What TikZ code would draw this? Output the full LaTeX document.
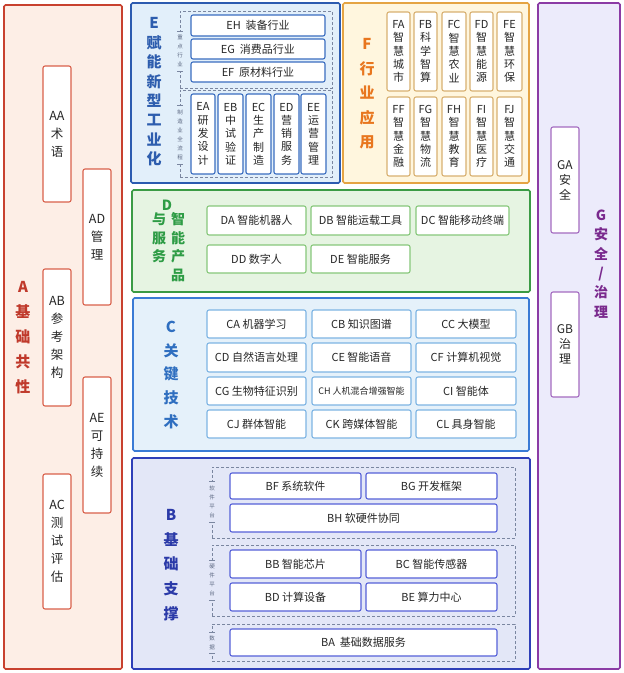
\documentclass[tikz,border=0pt]{standalone}
\usepackage{fontspec}
\setmainfont{Noto Sans CJK SC}
\definecolor{Abg}{HTML}{FDEEE6}\definecolor{Aln}{HTML}{C8412F}\definecolor{Acl}{HTML}{D9604A}\definecolor{Atx}{HTML}{C0392B}
\definecolor{Ebg}{HTML}{E2EFFA}\definecolor{Eln}{HTML}{2C5BB0}\definecolor{Ecl}{HTML}{3A6DC0}\definecolor{Etx}{HTML}{2D5DAE}
\definecolor{Fbg}{HTML}{FFF6DE}\definecolor{Fln}{HTML}{E5A443}\definecolor{Fcl}{HTML}{D8B070}\definecolor{Ftx}{HTML}{E8761E}
\definecolor{Dbg}{HTML}{E6F4E2}\definecolor{Dln}{HTML}{3B9B45}\definecolor{Dcl}{HTML}{86C77A}\definecolor{Dtx}{HTML}{2E9C45}
\definecolor{Cbg}{HTML}{E5F1FA}\definecolor{Cln}{HTML}{3A7BD5}\definecolor{Ccl}{HTML}{7DB4E3}\definecolor{Ctx}{HTML}{2F6FC0}
\definecolor{Bbg}{HTML}{E3E7F7}\definecolor{Bln}{HTML}{2E3FB8}\definecolor{Bcl}{HTML}{5560D8}\definecolor{Btx}{HTML}{2B3AA8}
\definecolor{Gbg}{HTML}{ECEBFB}\definecolor{Gln}{HTML}{8B3BA5}\definecolor{Gcl}{HTML}{A46BC0}\definecolor{Gtx}{HTML}{7A2A8E}
\definecolor{dashcol}{HTML}{7A86A0}\definecolor{sidecol}{HTML}{5A6680}
\newcommand\rbox[7]{%
  \pgfmathsetmacro\rbw{#5-#3}%
  \pgfmathsetmacro\rbh{#6-#4}%
  \node[#1, minimum width=\rbw pt, minimum height=\rbh pt] (#2) at ({(#3+#5)/2},{(#4+#6)/2}) {#7};}
\newcommand\gap{\hspace{.45em}}
\begin{document}
\begin{tikzpicture}[x=1pt,y=-1pt,
  cont/.style={draw, line width=1.6pt, rounded corners=1.5pt, inner sep=0pt},
  cell/.style={draw, fill=white, line width=1.1pt, rounded corners=2pt, inner sep=0pt, align=center, font=\fontsize{11}{13.3}\selectfont, text=black!85},
  acell/.style={cell, font=\fontsize{12.5}{18}\selectfont},
  gcell/.style={cell, font=\fontsize{12}{15}\selectfont},
  dframe/.style={draw=dashcol, line width=0.8pt, dash pattern=on 3pt off 2pt, inner sep=0pt},
  lab/.style={align=center, inner sep=0pt},
  side/.style={inner xsep=0.8pt, inner ysep=4pt, align=center, font=\fontsize{5.5}{9}\selectfont, text=sidecol},
  tick/.style={draw=dashcol, line width=0.8pt}]
\useasboundingbox (0,0) rectangle (624,673);
\fill[white] (0,0) rectangle (624,673);

% ---------- A ----------
\rbox{cont, draw=Aln, fill=Abg}{A}{4}{5}{122}{669}{}
\node[lab, text=Atx, font=\fontsize{15}{25}\selectfont\bfseries] (Alab) at (23,338) {A\\基\\础\\共\\性};
\rbox{acell, draw=Acl}{AA}{43}{66}{71}{202}{AA\\术\\语}
\rbox{acell, draw=Acl}{AD}{83}{169}{111}{305}{AD\\管\\理}
\rbox{acell, draw=Acl}{AB}{43}{269}{71}{406}{AB\\参\\考\\架\\构}
\rbox{acell, draw=Acl}{AE}{83}{377}{111}{513}{AE\\可\\持\\续}
\rbox{acell, draw=Acl}{AC}{43}{474}{71}{609}{AC\\测\\试\\评\\估}

% ---------- E ----------
\rbox{cont, draw=Eln, fill=Ebg}{E}{131}{3}{340}{183}{}
\node[lab, text=Etx, font=\fontsize{15}{19.4}\selectfont\bfseries] (Elab) at (154,92) {E\\赋\\能\\新\\型\\工\\业\\化};
\rbox{dframe}{Ef1}{180}{11}{332}{88}{}
\rbox{dframe}{Ef2}{180}{90}{332}{177}{}
\node[side, fill=Ebg] (Es1) at (180,51) {重\\点\\行\\业};
\node[side, fill=Ebg] (Es2) at (180,135) {制\\造\\业\\全\\流\\程};
\foreach \s in {Es1,Es2}{
  \draw[tick] ([xshift=-3pt]\s.north) -- ([xshift=3pt]\s.north);
  \draw[tick] ([xshift=-3pt]\s.south) -- ([xshift=3pt]\s.south);}
\rbox{cell, draw=Ecl}{EH}{191}{15}{325}{36}{EH\gap 装备行业}
\rbox{cell, draw=Ecl}{EG}{191}{39}{325}{59}{EG\gap 消费品行业}
\rbox{cell, draw=Ecl}{EF}{191}{62}{325}{82}{EF\gap 原材料行业}
\rbox{cell, draw=Ecl}{EA}{191}{94}{215}{174}{EA\\研\\发\\设\\计}
\rbox{cell, draw=Ecl}{EB}{218}{94}{243}{174}{EB\\中\\试\\验\\证}
\rbox{cell, draw=Ecl}{EC}{246}{94}{271}{174}{EC\\生\\产\\制\\造}
\rbox{cell, draw=Ecl}{ED}{274}{94}{299}{174}{ED\\营\\销\\服\\务}
\rbox{cell, draw=Ecl}{EE}{301}{94}{326}{174}{EE\\运\\营\\管\\理}

% ---------- F ----------
\rbox{cont, draw=Fln, fill=Fbg}{F}{343}{3}{529}{183}{}
\node[lab, text=Ftx, font=\fontsize{15}{24.5}\selectfont\bfseries] (Flab) at (367,94) {F\\行\\业\\应\\用};
\rbox{cell, draw=Fcl}{FA}{387}{12}{410}{91}{FA\\智\\慧\\城\\市}
\rbox{cell, draw=Fcl}{FB}{414}{12}{437}{91}{FB\\科\\学\\智\\算}
\rbox{cell, draw=Fcl}{FC}{442}{12}{466}{91}{FC\\智\\慧\\农\\业}
\rbox{cell, draw=Fcl}{FD}{470}{12}{493}{91}{FD\\智\\慧\\能\\源}
\rbox{cell, draw=Fcl}{FE}{497}{12}{522}{91}{FE\\智\\慧\\环\\保}
\rbox{cell, draw=Fcl}{FF}{387}{97}{410}{176}{FF\\智\\慧\\金\\融}
\rbox{cell, draw=Fcl}{FG}{414}{97}{437}{176}{FG\\智\\慧\\物\\流}
\rbox{cell, draw=Fcl}{FH}{442}{97}{466}{176}{FH\\智\\慧\\教\\育}
\rbox{cell, draw=Fcl}{FI}{470}{97}{493}{176}{FI\\智\\慧\\医\\疗}
\rbox{cell, draw=Fcl}{FJ}{497}{97}{522}{176}{FJ\\智\\慧\\交\\通}

% ---------- G ----------
\rbox{cont, draw=Gln, fill=Gbg}{G}{538}{3}{620}{669}{}
\node[lab, text=Gtx, font=\fontsize{14}{19.4}\selectfont\bfseries] (Glab) at (601,264) {G\\安\\全\\/\\治\\理};
\rbox{gcell, draw=Gcl}{GA}{551}{127}{579}{233}{GA\\安\\全}
\rbox{gcell, draw=Gcl}{GB}{551}{292}{579}{397}{GB\\治\\理}

% ---------- D ----------
\rbox{cont, draw=Dln, fill=Dbg}{D}{132}{190}{530}{292}{}
\node[lab, text=Dtx, font=\fontsize{14}{19}\selectfont\bfseries] (Dlab) at (167,205) {D};
\node[lab, text=Dtx, font=\fontsize{14}{18.5}\selectfont\bfseries] (Dlab1) at (178,247) {智\\能\\产\\品};
\node[lab, text=Dtx, font=\fontsize{14}{18.5}\selectfont\bfseries] (Dlab2) at (159,238) {与\\服\\务};
\rbox{cell, draw=Dcl}{DA}{207}{206}{306}{235}{DA 智能机器人}
\rbox{cell, draw=Dcl}{DB}{311}{206}{410}{235}{DB 智能运载工具}
\rbox{cell, draw=Dcl}{DC}{416}{206}{509}{235}{DC 智能移动终端}
\rbox{cell, draw=Dcl}{DD}{207}{245}{306}{273}{DD 数字人}
\rbox{cell, draw=Dcl}{DE}{311}{245}{410}{273}{DE 智能服务}

% ---------- C ----------
\rbox{cont, draw=Cln, fill=Cbg}{C}{133}{298}{529}{451}{}
\node[lab, text=Ctx, font=\fontsize{15}{23.75}\selectfont\bfseries] (Clab) at (171,375) {C\\关\\键\\技\\术};
\rbox{cell, draw=Ccl}{CA}{207}{310}{306}{338}{CA 机器学习}
\rbox{cell, draw=Ccl}{CB}{312}{310}{411}{338}{CB 知识图谱}
\rbox{cell, draw=Ccl}{CC}{416}{310}{516}{338}{CC 大模型}
\rbox{cell, draw=Ccl}{CD}{207}{343}{306}{372}{CD 自然语言处理}
\rbox{cell, draw=Ccl}{CE}{312}{343}{411}{372}{CE 智能语音}
\rbox{cell, draw=Ccl}{CF}{416}{343}{516}{372}{CF 计算机视觉}
\rbox{cell, draw=Ccl}{CG}{207}{377}{306}{405}{CG 生物特征识别}
\rbox{cell, draw=Ccl, font=\fontsize{9}{11}\selectfont}{CH}{312}{377}{411}{405}{CH 人机混合增强智能}
\rbox{cell, draw=Ccl}{CI}{416}{377}{516}{405}{CI 智能体}
\rbox{cell, draw=Ccl}{CJ}{207}{410}{306}{438}{CJ 群体智能}
\rbox{cell, draw=Ccl}{CK}{312}{410}{411}{438}{CK 跨媒体智能}
\rbox{cell, draw=Ccl}{CL}{416}{410}{516}{438}{CL 具身智能}

% ---------- B ----------
\rbox{cont, draw=Bln, fill=Bbg}{B}{132}{458}{530}{669}{}
\node[lab, text=Btx, font=\fontsize{15}{24.75}\selectfont\bfseries] (Blab) at (171,565) {B\\基\\础\\支\\撑};
\rbox{dframe}{Bf1}{212}{467}{515}{538}{}
\rbox{dframe}{Bf2}{212}{545}{515}{616}{}
\rbox{dframe}{Bf3}{212}{624}{515}{661}{}
\node[side, fill=Bbg] (Bs1) at (212,502) {软\\件\\平\\台};
\node[side, fill=Bbg] (Bs2) at (212,580) {硬\\件\\平\\台};
\node[side, fill=Bbg, inner ysep=3pt] (Bs3) at (212,643) {数\\据};
\foreach \s in {Bs1,Bs2,Bs3}{
  \draw[tick] ([xshift=-3pt]\s.north) -- ([xshift=3pt]\s.north);
  \draw[tick] ([xshift=-3pt]\s.south) -- ([xshift=3pt]\s.south);}
\rbox{cell, draw=Bcl}{BF}{230}{473}{361}{499}{BF 系统软件}
\rbox{cell, draw=Bcl}{BG}{366}{473}{497}{499}{BG 开发框架}
\rbox{cell, draw=Bcl}{BH}{230}{504}{497}{532}{BH 软硬件协同}
\rbox{cell, draw=Bcl}{BB}{230}{550}{361}{578}{BB 智能芯片}
\rbox{cell, draw=Bcl}{BC}{366}{550}{497}{578}{BC 智能传感器}
\rbox{cell, draw=Bcl}{BD}{230}{583}{361}{611}{BD 计算设备}
\rbox{cell, draw=Bcl}{BE}{366}{583}{497}{611}{BE 算力中心}
\rbox{cell, draw=Bcl}{BA}{230}{629}{497}{656}{BA\gap 基础数据服务}
\end{tikzpicture}
\end{document}
